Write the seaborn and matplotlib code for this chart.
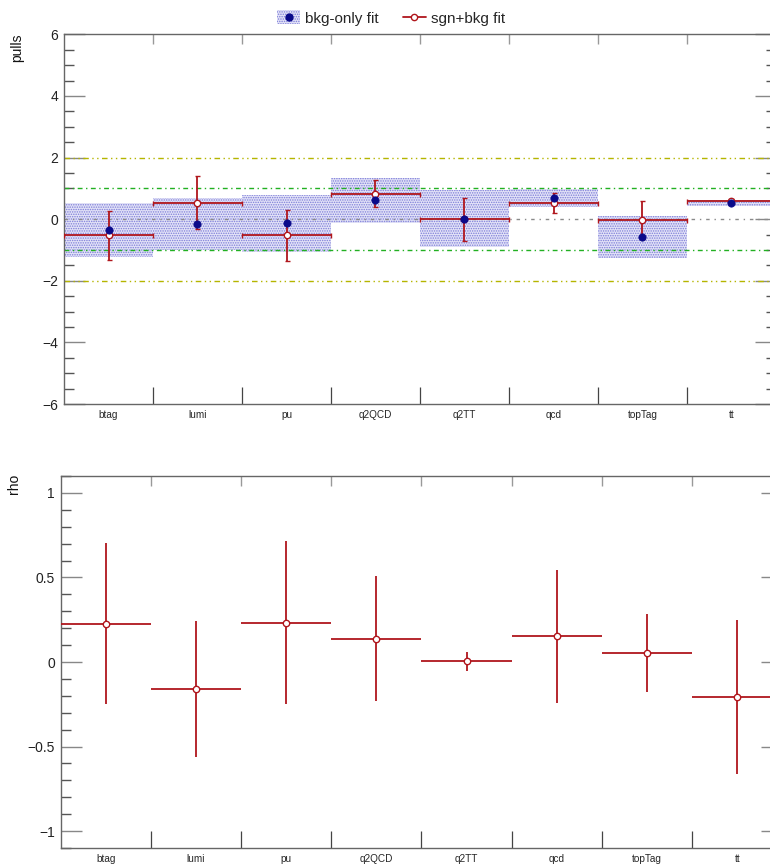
import numpy as np
import pandas as pd
import matplotlib
matplotlib.use("Agg")
import matplotlib.pyplot as plt
import seaborn as sns
from matplotlib.ticker import FixedLocator, MultipleLocator, FuncFormatter, NullFormatter
from matplotlib.lines import Line2D
from matplotlib.patches import Patch
from matplotlib.legend_handler import HandlerTuple

# nuisance parameters
params = ["btag", "lumi", "pu", "q2QCD", "q2TT", "qcd", "topTag", "tt"]

# background-only fit: pull and its uncertainty (shaded band)
bonly_pull = [-0.36, -0.16, -0.13, 0.62, 0.02, 0.69, -0.58, 0.52]
bonly_err = [0.87, 0.85, 0.93, 0.73, 0.93, 0.29, 0.68, 0.10]

# signal+background fit: pull and its uncertainty
sb_pull = [-0.53, 0.53, -0.53, 0.82, 0.00, 0.53, -0.03, 0.60]
sb_err = [0.81, 0.86, 0.84, 0.44, 0.70, 0.32, 0.62, 0.06]

# correlation of each nuisance with the signal strength
rho = [0.227, -0.159, 0.233, 0.138, 0.003, 0.153, 0.055, -0.207]
rho_err = [0.475, 0.400, 0.484, 0.371, 0.058, 0.394, 0.230, 0.455]

df = pd.DataFrame({
    "param": params,
    "x": np.arange(len(params)) + 0.5,
    "bonly_pull": bonly_pull,
    "bonly_err": bonly_err,
    "sb_pull": sb_pull,
    "sb_err": sb_err,
    "rho": rho,
    "rho_err": rho_err,
})

sns.set_theme(style="ticks")
plt.rcParams["font.family"] = ["Liberation Sans", "DejaVu Sans"]
plt.rcParams["hatch.linewidth"] = 0.7
plt.rcParams["axes.unicode_minus"] = True

RED = "#b0161c"
NAVY = "#0a0a8a"
AXC = "#666666"
BAND_FC = "#e2e2f7"
BAND_HC = "#7c7cd8"
BAND_HATCH = "......."

W, H = 770, 865
fig = plt.figure(figsize=(W / 100, H / 100), dpi=100)


def frac(x0, y0, x1, y1):
    return [x0 / W, 1 - y1 / H, (x1 - x0) / W, (y1 - y0) / H]


ax1 = fig.add_axes(frac(64, 34.3, 776, 404))
ax2 = fig.add_axes(frac(60.5, 476, 782.5, 848))

nb = len(params)
edges = np.arange(1, nb)


def style_axis(ax, ymajor, yminor, fmt):
    for s in ax.spines.values():
        s.set_color(AXC)
        s.set_linewidth(1.0)
    ax.set_xlim(0, nb)
    ax.xaxis.set_major_locator(FixedLocator(edges))
    ax.xaxis.set_major_formatter(NullFormatter())
    ax.xaxis.set_minor_locator(FixedLocator(df["x"]))
    ax.set_xticklabels(params, minor=True)
    ax.tick_params(axis="x", which="major", direction="in", length=12.5,
                   width=0.9, color="#444444", bottom=True, top=False)
    ax.tick_params(axis="x", which="minor", length=0, pad=4, labelsize=7.2,
                   bottom=True, top=False)
    top = ax.secondary_xaxis("top")
    top.set_xticks(edges)
    top.tick_params(direction="in", length=7, width=1.0, color="#999999",
                    labeltop=False)
    top.spines["top"].set_visible(False)
    ax.yaxis.set_major_locator(MultipleLocator(ymajor))
    ax.yaxis.set_minor_locator(MultipleLocator(yminor))
    ax.yaxis.set_major_formatter(FuncFormatter(fmt))
    ax.tick_params(axis="y", which="major", direction="in", length=15,
                   width=1.0, color="#888888", left=True, right=True,
                   labelsize=10, pad=4, labelcolor="#222222")
    ax.tick_params(axis="y", which="minor", direction="in", length=7,
                   width=1.0, color="#555555", left=True, right=True)
    ax.set_xlabel("")
    ax.set_ylabel("")


def fmt_top(v, pos):
    return f"{v:.0f}".replace("-", "\u2212")


def fmt_bot(v, pos):
    if abs(v) < 1e-9:
        return "0"
    s = f"{v:.1f}".rstrip("0").rstrip(".")
    return s.replace("-", "\u2212")


# ---------- pulls ----------
ax1.set_ylim(-6, 6)
ax1.bar(df["x"], 2 * df["bonly_err"], bottom=df["bonly_pull"] - df["bonly_err"],
        width=1.0, color=BAND_FC, edgecolor=BAND_HC, hatch=BAND_HATCH,
        linewidth=0, zorder=1)

ref = [(2, "#b5b500", (0, (4, 2.5, 1, 2.5, 1, 2.5))),
       (-2, "#b5b500", (0, (4, 2.5, 1, 2.5, 1, 2.5))),
       (1, "#22b022", (0, (3.5, 2.5, 1, 2.5))),
       (-1, "#22b022", (0, (3.5, 2.5, 1, 2.5))),
       (0, "#8a8a8a", (0, (2.5, 3.5, 1, 3.5)))]
for yv, c, ls in ref:
    ax1.axhline(yv, color=c, lw=1.0, ls=ls, zorder=2)

ax1.errorbar(df["x"], df["sb_pull"], xerr=0.5, yerr=df["sb_err"], fmt="o",
             color=RED, ecolor=RED, elinewidth=1.3, capsize=1.8, capthick=1.3,
             ms=4.6, mfc="white", mec=RED, mew=1.0, zorder=3)
sns.scatterplot(data=df, x="x", y="bonly_pull", ax=ax1, color=NAVY, s=28,
                edgecolor=NAVY, linewidth=0.5, zorder=4, legend=False)
style_axis(ax1, 2, 0.5, fmt_top)

# ---------- correlations ----------
ax2.set_ylim(-1.1, 1.1)
ax2.errorbar(df["x"], df["rho"], xerr=0.5, yerr=df["rho_err"], fmt="o",
             color=RED, ecolor=RED, elinewidth=1.3, capsize=0,
             ms=4.6, mfc="white", mec=RED, mew=1.0, zorder=3)
style_axis(ax2, 0.5, 0.1, fmt_bot)

fig.text(17 / W, 1 - 34 / H, "pulls", rotation=90, ha="center", va="top",
         fontsize=10, color="#111111")
fig.text(14 / W, 1 - 474 / H, "rho", rotation=90, ha="center", va="top",
         fontsize=10, color="#111111")

# legend
band_h = Patch(facecolor=BAND_FC, edgecolor=BAND_HC, hatch=BAND_HATCH, linewidth=0)
dot_h = Line2D([], [], ls="none", marker="o", color=NAVY, ms=5)
sb_h = Line2D([], [], color=RED, lw=1.3, marker="o", ms=4.5, mfc="white", mec=RED)
fig.legend([(band_h, dot_h), sb_h], ["bkg-only fit", "sgn+bkg fit"],
           handler_map={tuple: HandlerTuple(ndivide=1, pad=0)},
           loc="center", bbox_to_anchor=(391 / W, 1 - 18 / H), ncol=2,
           frameon=False, fontsize=11, handlelength=1.5, handleheight=1.0,
           columnspacing=1.55, handletextpad=0.33)

fig.savefig("out.png", dpi=100)
